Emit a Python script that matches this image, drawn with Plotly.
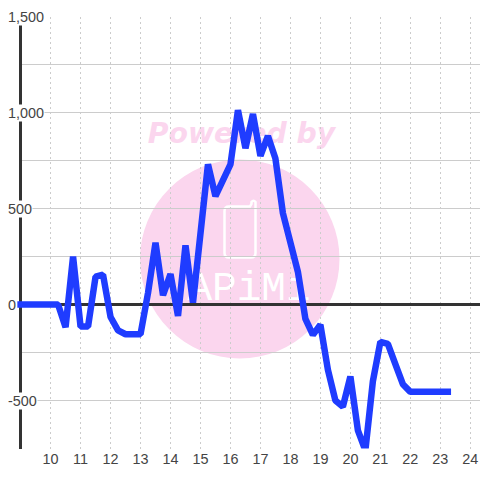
import plotly.graph_objects as go

hours = [9, 9.25, 9.5, 9.75, 10, 10.25, 10.5, 10.75, 11, 11.25, 11.5, 11.75, 12, 12.25, 12.5, 12.75,
         13, 13.25, 13.5, 13.75, 14, 14.25, 14.5, 14.75, 15, 15.25, 15.5, 15.75, 16, 16.25, 16.5, 16.75,
         17, 17.25, 17.5, 17.75, 18, 18.25, 18.5, 18.75, 19, 19.25, 19.5, 19.75, 20, 20.25, 20.5, 20.75,
         21, 21.25, 21.5, 21.75, 22, 22.25, 22.5, 22.75, 23, 23.25]
values = [0, 0, 0, 0, 0, 0, -118, 250, -115, -115, 145, 155, -65, -135, -155, -155,
          -155, 60, 322, 48, 158, -60, 308, 10, 360, 730, 564, 650, 730, 1012, 814, 992,
          774, 878, 760, 475, 310, 170, -75, -158, -105, -340, -500, -532, -375, -655, -760, -400,
          -195, -205, -310, -415, -455, -455, -455, -455, -455, -455]
x_ticks = list(range(10, 25))
y_grid = [-750, -500, -250, 0, 250, 500, 750, 1000, 1250, 1500]
y_labels = {1500: "1,500", 1000: "1,000", 500: "500", 0: "0", -500: "-500"}

W = 480
INK = "#444444"
GRID = "#cccccc"
PINK = "#fbd6ee"
BLUE = "#1f3cff"
FONT = "Liberation Sans"
PX = 29.98
x_at = lambda px: 9 + (px - 20.6) / PX
y_dom = [(W - 448.5) / W, (W - 16.5) / W]

fig = go.Figure()

# watermark, drawn first so it lies under the grid and the line
fig.add_trace(go.Scatter(x=[241.5], y=[136], mode="text", text=["<b><i>Powered by</i></b>"],
                         textfont=dict(family="DejaVu Sans", size=28.3, color=PINK),
                         hoverinfo="skip", xaxis="x", yaxis="y"))
fig.add_trace(go.Scatter(x=[249], y=[290], mode="text", text=["APiMi"],
                         textfont=dict(family="Liberation Mono", size=41, color="white"),
                         hoverinfo="skip", xaxis="x", yaxis="y"))
# grid subplot carries an empty trace so it exists
fig.add_trace(go.Scatter(x=[], y=[], xaxis="x2", yaxis="y2", hoverinfo="skip"))
# data
fig.add_trace(go.Scatter(x=hours, y=values, mode="lines",
                         line=dict(color=BLUE, width=6.5), xaxis="x3", yaxis="y3"))

shapes = [
    dict(type="circle", xref="x", yref="y", x0=140, x1=339.5, y0=159.5, y1=358.5,
         fillcolor=PINK, line_width=0, layer="below"),
    dict(type="path", xref="x", yref="y", layer="below", line=dict(color="white", width=2.5),
         path="M 229,206.5 L 250,206.5 L 251.5,204 L 251.5,202 Q 253.5,199.5 255.5,202 "
              "L 255.5,253 Q 255.5,257.5 251,257.5 L 229,257.5 Q 224.5,257.5 224.5,253 "
              "L 224.5,211 Q 224.5,206.5 229,206.5 Z"),
]

annotations = [
    dict(x=0.0148, xref="paper", xanchor="left", y=v, yref="y2", yanchor="middle", text=t,
         showarrow=False, bgcolor="white", borderpad=0,
         font=dict(family=FONT, size=14.4, color=INK))
    for v, t in y_labels.items()
]

hidden = dict(visible=False, fixedrange=True)
fig.update_layout(
    width=W, height=W, autosize=False, showlegend=False,
    margin=dict(l=0, r=0, t=0, b=0, pad=0),
    paper_bgcolor="white", plot_bgcolor="rgba(0,0,0,0)",
    shapes=shapes, annotations=annotations,
    xaxis=dict(hidden, domain=[0, 1], range=[0, W]),
    yaxis=dict(hidden, domain=[0, 1], range=[W, 0]),
    xaxis2=dict(domain=[22 / W, 1], range=[x_at(22), x_at(W)], anchor="y2", tickmode="array",
                tickvals=x_ticks, ticktext=[str(t) for t in x_ticks], ticks="", showline=False,
                zeroline=False, showgrid=True, gridcolor=GRID, griddash="2px,3px", gridwidth=1,
                tickfont=dict(family=FONT, size=14.4, color=INK), fixedrange=True),
    yaxis2=dict(domain=y_dom, range=[-750, 1500], anchor="x2", tickmode="array", tickvals=y_grid,
                showticklabels=False, ticks="", showline=True, linecolor="#333333", linewidth=3,
                showgrid=True, gridcolor=GRID, gridwidth=1,
                zeroline=True, zerolinecolor="#333333", zerolinewidth=3, fixedrange=True),
    xaxis3=dict(hidden, domain=[17 / W, 1], range=[x_at(17), x_at(W)], anchor="y3"),
    yaxis3=dict(hidden, domain=y_dom, range=[-750, 1500], anchor="x3"),
)

post = """
document.body.style.margin = '0';
document.body.style.overflow = 'hidden';
document.querySelectorAll('.scatterlayer .js-line').forEach(function (p) {
  p.style.strokeLinecap = 'square';
  p.style.strokeLinejoin = 'bevel';
});
"""
fig.write_html("out.html", post_script=post, config=dict(displayModeBar=False))
